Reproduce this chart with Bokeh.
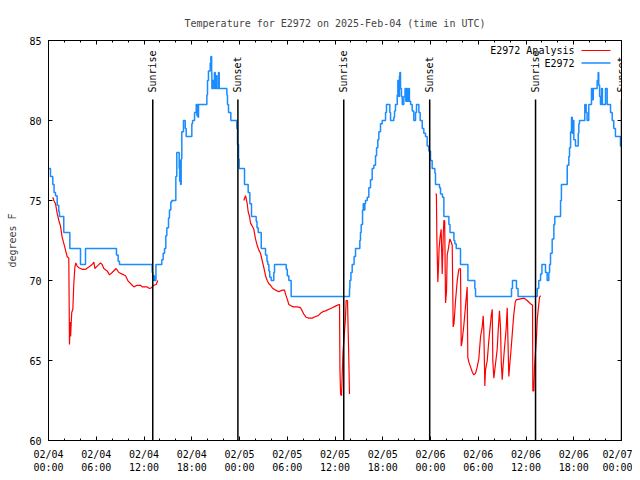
import math
import numpy as np
import pandas as pd
from bokeh.plotting import figure
from bokeh.models import (DatetimeAxis, LinearAxis, FixedTicker, DatetimeTickFormatter,
                          CustomJSTickFormatter, Range1d, LabelSet, ColumnDataSource, Label,
                          BoxAnnotation)
from bokeh.core.properties import value
from bokeh.embed import file_html
from bokeh.resources import INLINE

START = pd.Timestamp("2025-02-04 00:00", tz="UTC")
SPAN_HOURS = 72

# Observations (E2972), hours since 2025-02-04 00:00 UTC, degrees F
obs_hours = [0.00, 0.25, 0.54, 0.70, 0.88, 1.09, 1.29, 1.38, 1.92, 2.68, 4.02, 4.65, 8.54, 8.75, 8.92,
             13.03, 13.10, 13.20, 13.30, 13.50, 14.24, 14.41, 14.58, 14.74, 14.87, 15.08, 15.20, 15.37,
             15.50, 16.00, 16.12, 16.42, 16.48, 16.55, 16.60, 16.67, 16.75, 16.96, 17.18, 17.30, 18.01,
             18.10, 18.35, 18.56, 18.65, 18.72, 18.80, 18.85, 19.90, 19.98, 20.10, 20.32, 20.40, 20.50,
             20.53, 20.65, 20.75, 20.85, 20.95, 21.05, 21.15, 21.36, 21.45, 22.41, 22.49, 22.62, 22.91,
             23.66, 23.75, 23.88, 23.96, 24.63, 25.09, 25.30, 25.51, 26.10, 26.20, 26.35, 26.73, 27.27,
             27.45, 27.56, 27.69, 27.80, 27.98, 28.31, 28.40, 29.87, 30.00, 30.20, 30.49, 37.82, 37.87,
             38.00, 38.16, 38.40, 38.58, 39.12, 39.20, 39.29, 39.46, 39.55, 39.65, 39.75, 39.83, 40.05,
             40.25, 40.46, 40.67, 40.88, 41.09, 41.22, 41.38, 41.51, 41.72, 41.93, 42.35, 42.47, 42.89,
             42.98, 43.39, 43.48, 43.60, 43.82, 43.90, 44.00, 44.10, 44.15, 44.23, 44.35, 44.45, 44.65,
             44.80, 44.90, 45.00, 45.10, 45.25, 45.35, 45.50, 45.70, 45.90, 46.12, 46.24, 46.54, 46.70,
             46.96, 47.16, 47.37, 47.58, 47.79, 48.00, 48.21, 48.55, 48.63, 49.13, 49.26, 49.50, 49.68,
             50.31, 50.45, 50.94, 51.06, 51.23, 51.77, 52.70, 53.57, 53.66, 58.18, 58.30, 58.80, 59.00,
             61.41, 61.60, 61.83, 62.00, 62.45, 62.66, 62.87, 62.96, 63.08, 63.29, 63.50, 63.62, 64.34,
             64.45, 65.18, 65.38, 65.47, 65.60, 65.72, 65.81, 65.90, 66.01, 66.22, 66.56, 66.64, 66.72,
             67.39, 67.56, 67.68, 67.89, 68.23, 68.35, 68.45, 68.94, 69.07, 69.14, 69.25, 69.36, 69.49,
             69.60, 69.99, 70.20, 70.62, 70.83, 71.03, 71.24, 71.87, 72.00]
obs_temps = [77.0, 76.5, 76.0, 75.5, 75.3, 74.7, 74.3, 74.0, 73.0, 72.0, 71.0, 72.0, 71.6, 71.2, 71.0,
             70.5, 70.0, 70.3, 70.0, 71.0, 71.3, 71.7, 72.0, 72.8, 73.3, 73.9, 74.4, 74.9,
             75.0, 76.5, 78.0, 77.0, 76.2, 77.5, 76.0, 77.6, 79.3, 80.0, 79.5, 79.0, 79.8,
             80.0, 80.5, 81.0, 80.3, 81.0, 80.2, 81.0, 81.6, 82.5, 83.1, 83.6, 84.0, 83.0,
             82.0, 82.5, 82.0, 83.0, 82.0, 82.8, 82.0, 83.0, 82.0, 81.6, 81.0, 80.5, 80.0,
             79.5, 78.5, 77.6, 77.0, 76.0, 75.5, 74.8, 74.0, 73.7, 73.3, 73.0, 72.0, 71.6,
             71.2, 71.0, 70.6, 70.2, 70.0, 70.5, 71.0, 70.7, 70.3, 70.0, 69.0, 69.5, 70.0,
             70.5, 71.0, 71.5, 72.0, 72.5, 73.0, 73.5, 74.4, 74.8, 74.4, 74.8, 75.0, 75.2,
             75.8, 76.3, 77.0, 77.2, 77.8, 78.3, 78.8, 79.3, 79.8, 80.0, 80.5, 81.0, 80.5,
             80.0, 80.2, 80.6, 81.0, 81.6, 82.5, 81.5, 82.8, 83.0, 82.0, 81.5, 81.0, 81.5,
             82.0, 81.2, 82.0, 81.2, 82.0, 81.2, 81.0, 80.6, 80.0, 80.5, 81.0, 80.5, 80.0,
             79.5, 79.2, 79.0, 78.4, 78.1, 77.5, 77.0, 76.7, 76.0, 75.8, 75.4, 75.2, 74.0,
             73.5, 73.0, 72.5, 72.3, 72.0, 71.0, 70.0, 69.5, 69.0, 69.5, 70.0, 69.5, 69.0,
             69.5, 70.0, 70.4, 71.0, 70.5, 70.0, 70.5, 71.0, 71.7, 72.6, 73.5, 74.0, 75.0,
             76.0, 77.2, 77.75, 78.3, 79.3, 80.2, 79.2, 80.0, 78.8, 78.4, 79.2, 79.8, 80.0,
             81.0, 80.5, 80.0, 81.0, 82.0, 81.3, 82.0, 82.5, 83.0, 82.2, 81.5, 81.0, 82.0,
             81.0, 82.0, 81.0, 80.5, 80.0, 79.5, 79.0, 78.4, 78.4]

NAN = float("nan")
# Analysis (E2972 Analysis); NaN marks the gaps in the analysis record
ana_hours = [0.54, 0.67, 0.88, 1.09, 1.30, 1.51, 1.72, 1.93, 2.14, 2.34, 2.55, 2.64, 2.72, 2.78, 2.85,
             2.92, 3.06, 3.18, 3.31, 3.43, 3.60, 3.81, 4.23, 4.65, 5.07, 5.49, 5.70, 5.82, 6.12, 6.53,
             6.74, 6.95, 7.37, 7.67, 8.00, 8.50, 8.84, 9.26, 9.68, 10.01, 10.43, 10.72, 11.14, 11.56,
             11.77, 12.40, 12.69, 12.94, 13.23, 13.53, 13.66, 13.73, NAN,
             24.54, 24.76, 24.97, 25.09, 25.26, 25.38, 25.60, 25.80, 26.01, 26.22, 26.43, 26.64, 26.85,
             27.06, 27.27, 27.48, 27.69, 27.90, 28.19, 28.53, 28.94, 29.37, 29.66, 29.78, 29.99, 30.20,
             30.54, 30.82, 31.25, 31.67, 31.88, 32.08, 32.38, 32.71, 33.13, 33.55, 33.89, 34.18, 34.47,
             34.81, 35.23, 35.65, 36.06, 36.48, 36.57, 36.62, 36.70, 36.82, 36.90, 37.00, 37.15, 37.30,
             37.40, 37.57, 37.65, 37.74, 37.82, NAN,
             48.63, 48.74, 48.80, 48.92, 49.00, 49.08, 49.20, 49.34, 49.47, 49.60, 49.68, 49.78, 49.89,
             50.01, 50.10, 50.25, 50.43, 50.60, 50.73, 50.85, 50.95, 51.14, 51.36, 51.56, 51.77, 51.86,
             51.95, 52.19, 52.40, 52.61, 52.69, 52.82, 53.03, 53.24, 53.44, 53.66, 53.87, 54.07, 54.29,
             54.50, 54.62, 54.70, 54.83, 54.91, 55.13, 55.33, 55.46, 55.63, 55.76, 55.83, 55.96, 56.17,
             56.38, 56.51, 56.67, 56.80, 56.89, 57.01, 57.14, 57.30, 57.51, 57.64, 57.72, 57.84, 57.97,
             58.14, 58.31, 58.47, 58.65, 58.77, 58.90, 59.31, 59.73, 60.15, 60.57, 60.82, 60.86, 60.98,
             61.07, 61.20, 61.32, 61.41, 61.54, 61.70, 61.83]
ana_temps = [75.2, 75.0, 74.8, 74.2, 73.75, 73.4, 72.7, 72.3, 71.9, 71.5, 71.4, 66.0, 67.4, 66.5, 67.3,
             68.0, 68.2, 69.8, 70.8, 71.1, 70.9, 70.8, 70.7, 70.7, 70.85, 71.0, 71.15, 70.75, 70.9, 71.1,
             71.0, 70.75, 70.6, 70.35, 70.5, 70.75, 70.5, 70.4, 70.3, 69.96, 69.75, 69.6, 69.7, 69.7,
             69.6, 69.6, 69.5, 69.55, 69.7, 69.75, 69.9, 70.0, NAN,
             75.0, 75.3, 74.8, 74.3, 74.0, 73.6, 73.4, 73.2, 72.6, 72.2, 71.9, 71.7, 71.25,
             70.8, 70.3, 70.0, 69.8, 69.7, 69.5, 69.4, 69.3, 69.4, 69.4, 69.15, 68.85, 68.5,
             68.4, 68.35, 68.35, 68.3, 68.1, 67.9, 67.7, 67.65, 67.65, 67.75, 67.8, 67.95, 68.05,
             68.1, 68.2, 68.3, 68.4, 68.5, 68.5, 64.5, 62.9, 62.8, 64.0, 65.5, 66.5, 67.5,
             68.75, 68.75, 67.0, 65.0, 62.9, NAN,
             75.4, 75.4, 72.7, 69.9, 70.8, 72.0, 72.7, 73.2, 70.4, 72.8, 73.75, 73.75, 68.6,
             69.3, 71.6, 72.0, 72.6, 72.4, 72.2, 67.1, 67.3, 68.7, 70.0, 70.7, 70.75, 65.9,
             66.1, 67.2, 68.4, 69.6, 65.2, 64.9, 64.6, 64.3, 64.1, 64.2, 64.6, 65.1, 66.5,
             67.1, 67.8, 66.9, 63.4, 64.4, 65.0, 66.25, 66.9, 67.8, 68.2, 65.0, 63.9, 64.8,
             65.7, 66.9, 68.1, 67.0, 64.9, 63.8, 64.8, 65.8, 67.0, 68.3, 66.5, 64.0, 64.8,
             65.8, 66.9, 67.9, 68.65, 68.8, 68.8, 68.85, 68.9, 68.75, 68.55, 68.45, 63.1, 63.1,
             64.6, 65.6, 66.5, 67.5, 68.2, 68.95, 69.05]

sun_hours = [13.1, 23.8, 37.1, 47.9, 61.2, 72.0]
sun_labels = ["Sunrise", "Sunset", "Sunrise", "Sunset", "Sunrise", "Sunset"]

y_ticks = [60, 65, 70, 75, 80, 85]
x_major_hours = list(range(0, 73, 6))
x_minor_hours = list(range(0, 73, 2))

Y_MIN, Y_MAX = 60, 85
FONT = "DejaVu Sans Mono"
FS = "10px"
RED = "#ff0000"
BLUE = "#1a8cff"

t0 = START.value / 1e6  # ms


def to_ms(hours):
    return [t0 + h * 3600000.0 for h in hours]


p = figure(width=632, height=478, x_axis_type="datetime",
           x_range=Range1d(t0, t0 + SPAN_HOURS * 3600000.0), y_range=Range1d(Y_MIN, Y_MAX),
           output_backend="svg", toolbar_location=None,
           min_border_left=48, min_border_right=11, min_border_top=40, min_border_bottom=38,
           title="Temperature for E2972 on 2025-Feb-04 (time in UTC)")
p.title.text_font = FONT
p.title.text_font_size = FS
p.title.text_font_style = "normal"
p.title.align = "center"
p.title.standoff = 23
p.xgrid.visible = False
p.ygrid.visible = False
p.outline_line_color = "black"
p.outline_line_width = 1
p.background_fill_color = "white"
p.border_fill_color = "white"

xt = FixedTicker(ticks=to_ms(x_major_hours), minor_ticks=to_ms(x_minor_hours))
yt = FixedTicker(ticks=y_ticks, minor_ticks=[])
fmt = "%m/%d\n%H:%M"
xfmt = DatetimeTickFormatter(microseconds=fmt, milliseconds=fmt, seconds=fmt, minsec=fmt,
                             minutes=fmt, hourmin=fmt, hours=fmt, days=fmt, months=fmt, years=fmt)
blank = CustomJSTickFormatter(code="return ''")


def style_axis(ax):
    ax.major_tick_in = 4
    ax.major_tick_out = 0
    ax.minor_tick_in = 2
    ax.minor_tick_out = 0
    ax.axis_line_color = "black"
    ax.major_tick_line_color = "black"
    ax.minor_tick_line_color = "black"
    ax.major_label_text_font = FONT
    ax.major_label_text_font_size = FS
    ax.major_label_text_color = "black"
    ax.axis_label_text_font = FONT
    ax.axis_label_text_font_size = FS
    ax.axis_label_text_font_style = "normal"


xa = p.xaxis[0]
xa.ticker = xt
xa.formatter = xfmt
style_axis(xa)
xa.major_label_standoff = 8

ya = p.yaxis[0]
ya.ticker = yt
style_axis(ya)
ya.axis_label = "degrees F"
ya.major_label_standoff = 7
ya.axis_label_standoff = 8

top = DatetimeAxis(ticker=xt, formatter=blank)
style_axis(top)
top.major_label_standoff = 0
p.add_layout(top, "above")
right = LinearAxis(ticker=yt, formatter=blank)
style_axis(right)
right.major_label_standoff = 0
p.add_layout(right, "right")

p.line(to_ms(ana_hours), ana_temps, color=RED, line_width=1.2)
p.step(to_ms(obs_hours), obs_temps, mode="after", color=BLUE, line_width=1.5)

sun_top = Y_MIN + 0.8525 * (Y_MAX - Y_MIN)
sun_text_y = Y_MIN + 0.87 * (Y_MAX - Y_MIN)
sun_src = ColumnDataSource(dict(x=to_ms(sun_hours), label=sun_labels,
                                y0=[Y_MIN] * len(sun_hours), y1=[sun_top] * len(sun_hours),
                                ty=[sun_text_y] * len(sun_hours)))
p.segment(x0="x", y0="y0", x1="x", y1="y1", source=sun_src, color="black", line_width=1.5)
p.add_layout(LabelSet(x="x", y="ty", text="label", source=sun_src, angle=math.pi / 2,
                      text_align="left", text_baseline="middle", text_font=value(FONT),
                      text_font_size=value(FS), text_color="black"))

# key (text right-aligned, line sample to its right), positioned in frame pixels
FRAME_W, FRAME_H = 573, 400
for i, (name, col, lw) in enumerate([("E2972 Analysis", RED, 1.2), ("E2972", BLUE, 1.5)]):
    yk = FRAME_H - 10 - i * 12.5
    p.add_layout(Label(x=FRAME_W - 47, y=yk, x_units="screen", y_units="screen", text=name,
                       text_align="right", text_baseline="middle", text_font=FONT,
                       text_font_size=FS, text_color="black"))
    p.add_layout(BoxAnnotation(left=FRAME_W - 40, right=FRAME_W - 11, bottom=yk - lw / 2,
                               top=yk + lw / 2, left_units="screen", right_units="screen",
                               bottom_units="screen", top_units="screen", fill_color=col,
                               fill_alpha=1, line_color=None))

open("out.html", "w").write(file_html(p, INLINE))
